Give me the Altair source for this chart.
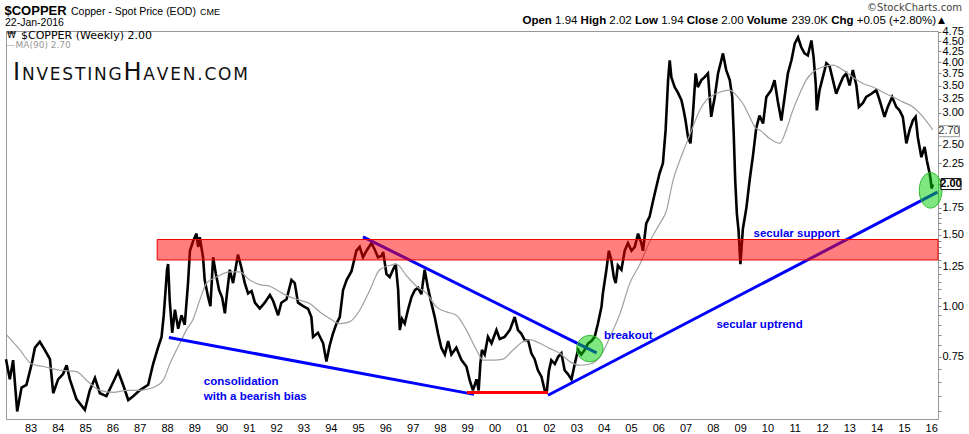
import altair as alt
import pandas as pd

# ---------------- data ----------------
years = [1982.10, 1982.24, 1982.36, 1982.51, 1982.67, 1982.85, 1983.04, 1983.16, 1983.34, 1983.52,
         1983.71, 1983.83, 1984.01, 1984.19, 1984.32, 1984.44, 1984.68, 1984.99, 1985.17, 1985.36,
         1985.54, 1985.78, 1986.03, 1986.21, 1986.39, 1986.58, 1986.76, 1987.00, 1987.31, 1987.49,
         1987.67, 1987.80, 1987.88, 1987.95, 1988.00, 1988.04, 1988.10, 1988.19, 1988.29, 1988.41,
         1988.53, 1988.65, 1988.77, 1988.84, 1988.96, 1989.08, 1989.14, 1989.20, 1989.32, 1989.38,
         1989.51, 1989.59, 1989.69, 1989.79, 1989.91, 1990.02, 1990.12, 1990.20, 1990.30, 1990.42,
         1990.60, 1990.73, 1990.85, 1990.97, 1991.10, 1991.22, 1991.40, 1991.58, 1991.77, 1991.89,
         1992.07, 1992.19, 1992.38, 1992.56, 1992.68, 1992.80, 1992.99, 1993.17, 1993.29, 1993.35,
         1993.53, 1993.72, 1993.84, 1993.96, 1994.08, 1994.21, 1994.33, 1994.45, 1994.58, 1994.76,
         1994.94, 1995.06, 1995.18, 1995.31, 1995.49, 1995.61, 1995.73, 1995.86, 1995.92, 1996.04,
         1996.16, 1996.28, 1996.38, 1996.47, 1996.53, 1996.61, 1996.71, 1996.83, 1996.96, 1997.08,
         1997.20, 1997.32, 1997.44, 1997.56, 1997.69, 1997.81, 1997.93, 1998.05, 1998.18, 1998.30,
         1998.42, 1998.60, 1998.79, 1998.97, 1999.09, 1999.21, 1999.34, 1999.42, 1999.48, 1999.54,
         1999.64, 1999.76, 1999.89, 2000.07, 2000.19, 2000.37, 2000.56, 2000.74, 2000.86, 2000.98,
         2001.11, 2001.23, 2001.35, 2001.47, 2001.59, 2001.72, 2001.84, 2001.92, 2001.99, 2002.08,
         2002.21, 2002.33, 2002.45, 2002.57, 2002.69, 2002.82, 2002.94, 2003.06, 2003.18, 2003.30,
         2003.43, 2003.55, 2003.67, 2003.79, 2003.92, 2003.97, 2004.10, 2004.19, 2004.28, 2004.37,
         2004.44, 2004.52, 2004.65, 2004.77, 2004.89, 2005.02, 2005.14, 2005.26, 2005.38, 2005.44,
         2005.56, 2005.68, 2005.81, 2005.93, 2006.05, 2006.17, 2006.27, 2006.36, 2006.42, 2006.48,
         2006.60, 2006.72, 2006.85, 2006.93, 2007.00, 2007.09, 2007.18, 2007.27, 2007.37, 2007.45,
         2007.58, 2007.70, 2007.82, 2007.94, 2008.07, 2008.19, 2008.31, 2008.37, 2008.49, 2008.62,
         2008.71, 2008.76, 2008.82, 2008.88, 2008.94, 2009.01, 2009.10, 2009.23, 2009.35, 2009.47,
         2009.59, 2009.71, 2009.84, 2009.96, 2010.14, 2010.26, 2010.38, 2010.51, 2010.63, 2010.75,
         2010.88, 2011.00, 2011.12, 2011.24, 2011.36, 2011.48, 2011.61, 2011.69, 2011.77, 2011.81,
         2011.91, 2012.03, 2012.16, 2012.28, 2012.40, 2012.52, 2012.64, 2012.77, 2012.89, 2013.01,
         2013.13, 2013.26, 2013.35, 2013.50, 2013.62, 2013.81, 2013.99, 2014.11, 2014.29, 2014.41,
         2014.57, 2014.72, 2014.84, 2014.96, 2015.09, 2015.21, 2015.33, 2015.43, 2015.51, 2015.64,
         2015.76, 2015.84, 2015.94, 2015.98, 2016.02, 2016.06]
prices = [0.74, 0.66, 0.736, 0.55, 0.63, 0.64, 0.72, 0.79, 0.817, 0.78,
          0.74, 0.61, 0.66, 0.68, 0.715, 0.66, 0.59, 0.555, 0.62, 0.665,
          0.61, 0.60, 0.65, 0.69, 0.64, 0.587, 0.60, 0.62, 0.64, 0.72,
          0.79, 0.84, 0.95, 1.10, 1.23, 1.27, 1.03, 0.86, 0.98, 0.88,
          0.95, 0.90, 1.14, 1.37, 1.45, 1.51, 1.40, 1.48, 1.32, 1.16,
          1.05, 1.00, 1.32, 1.20, 1.095, 1.05, 0.96, 1.08, 1.23, 1.14,
          1.34, 1.24, 1.14, 1.075, 1.09, 1.02, 0.987, 1.02, 1.065, 1.03,
          0.95, 1.02, 1.04, 1.16, 1.14, 1.02, 1.00, 0.985, 0.94, 0.84,
          0.86, 0.81, 0.73, 0.80, 0.856, 0.906, 0.94, 1.095, 1.16, 1.22,
          1.37, 1.40, 1.32, 1.37, 1.43, 1.38, 1.32, 1.33, 1.36, 1.20,
          1.18, 1.23, 1.27, 1.095, 0.873, 0.93, 0.906, 0.98, 1.054, 1.095,
          1.11, 1.07, 1.23, 1.11, 1.015, 0.94, 0.856, 0.79, 0.76, 0.82,
          0.76, 0.79, 0.736, 0.71, 0.657, 0.62, 0.66, 0.62, 0.72, 0.78,
          0.76, 0.84, 0.81, 0.873, 0.83, 0.84, 0.873, 0.94, 0.873, 0.856,
          0.824, 0.824, 0.765, 0.74, 0.695, 0.67, 0.62, 0.62, 0.69, 0.736,
          0.72, 0.75, 0.765, 0.695, 0.68, 0.66, 0.72, 0.78, 0.76, 0.78,
          0.81, 0.82, 0.84, 0.906, 0.996, 1.075, 1.23, 1.37, 1.30, 1.18,
          1.14, 1.26, 1.23, 1.37, 1.43, 1.37, 1.40, 1.51, 1.43, 1.37,
          1.60, 1.66, 1.82, 1.97, 2.13, 2.25, 2.72, 3.61, 4.04, 3.67,
          3.47, 3.36, 3.22, 3.04, 2.87, 2.61, 2.52, 2.98, 3.75, 3.47,
          3.61, 3.67, 3.75, 2.93, 3.28, 3.75, 4.04, 4.20, 3.82, 3.61,
          3.28, 2.72, 2.04, 1.69, 1.54, 1.27, 1.55, 1.75, 2.05, 2.35,
          2.75, 2.95, 2.82, 3.28, 3.41, 3.61, 3.20, 2.87, 3.28, 3.75,
          4.04, 4.44, 4.60, 4.35, 4.20, 4.15, 4.52, 4.12, 3.54, 3.04,
          3.41, 3.67, 3.97, 3.90, 3.61, 3.34, 3.50, 3.67, 3.75, 3.50,
          3.82, 3.50, 3.10, 3.17, 3.28, 3.34, 3.41, 3.22, 2.93, 3.10,
          3.28, 3.10, 3.04, 2.93, 2.52, 2.72, 2.87, 2.93, 2.61, 2.33,
          2.47, 2.29, 2.13, 2.05, 1.95, 2.00]

ma_years = [1982.10, 1982.61, 1983.04, 1983.46, 1984.07, 1984.68, 1985.05, 1985.54, 1986.03, 1986.52,
            1987.00, 1987.49, 1987.86, 1988.10, 1988.47, 1988.71, 1988.96, 1989.20, 1989.45, 1989.81,
            1990.30, 1990.67, 1991.03, 1991.40, 1991.77, 1992.13, 1992.50, 1992.86, 1993.23, 1993.60,
            1993.96, 1994.33, 1994.69, 1995.06, 1995.43, 1995.79, 1996.16, 1996.41, 1996.77, 1997.14,
            1997.51, 1997.87, 1998.24, 1998.60, 1998.97, 1999.34, 1999.58, 1999.95, 2000.31, 2000.68,
            2001.04, 2001.29, 2001.66, 2002.02, 2002.39, 2002.76, 2003.12, 2003.49, 2003.86, 2004.23,
            2004.60, 2004.96, 2005.33, 2005.70, 2006.06, 2006.30, 2006.54, 2006.79, 2007.03, 2007.27,
            2007.52, 2007.76, 2008.00, 2008.25, 2008.62, 2008.86, 2009.10, 2009.35, 2009.59, 2009.71,
            2010.08, 2010.45, 2010.69, 2010.93, 2011.18, 2011.42, 2011.67, 2012.03, 2012.40, 2012.77,
            2013.13, 2013.50, 2013.86, 2014.23, 2014.60, 2014.96, 2015.33, 2015.70, 2016.06]
ma_values = [0.853, 0.78, 0.72, 0.71, 0.695, 0.69, 0.657, 0.62, 0.613, 0.62,
             0.62, 0.63, 0.657, 0.72, 0.81, 0.873, 0.93, 1.035, 1.14, 1.18,
             1.215, 1.215, 1.16, 1.13, 1.12, 1.085, 1.054, 1.035, 1.015, 0.968,
             0.933, 0.906, 0.915, 0.977, 1.095, 1.23, 1.26, 1.27, 1.19, 1.12,
             1.075, 0.996, 0.968, 0.95, 0.873, 0.78, 0.736, 0.736, 0.74, 0.78,
             0.817, 0.827, 0.81, 0.787, 0.765, 0.73, 0.715, 0.72, 0.75, 0.84,
             0.96, 1.14, 1.27, 1.45, 1.60, 1.72, 2.04, 2.29, 2.52, 2.77,
             3.04, 3.22, 3.31, 3.37, 3.41, 3.31, 3.16, 2.93, 2.74, 2.72,
             2.59, 2.52, 2.72, 3.04, 3.34, 3.61, 3.78, 3.89, 3.93, 3.82,
             3.67, 3.54, 3.47, 3.37, 3.28, 3.19, 3.10, 2.93, 2.72]

# trend lines: (line id, year, price)
trend_ids = ["cons", "cons", "down", "down", "up", "up"]
trend_years = [1988.07, 1999.25, 1995.18, 2003.74, 2001.96, 2016.23]
trend_prices = [0.837, 0.606, 1.482, 0.767, 0.603, 1.91]
floor_years = [1998.99, 2001.96]
floor_prices = [0.613, 0.613]

band_year = [1987.64]
band_year2 = [2016.25]
band_low = [1.30]
band_high = [1.46]

circle_years = [2003.49]
circle_prices = [0.786]
ellipse_years = [2015.98]
ellipse_prices = [1.93]

note_texts = ["breakout", "secular support", "secular uptrend", "consolidation", "with a bearish bias"]
note_years = [2004.01, 2009.49, 2008.13, 1989.35, 1989.35]
note_prices = [0.843, 1.51, 0.901, 0.651, 0.596]

y_label_values = [0.75, 1.0, 1.25, 1.5, 1.75, 2.0, 2.25, 2.5, 2.75, 3.0, 3.25, 3.5, 3.75, 4.0, 4.25, 4.5, 4.75]
y_minor_values = [0.55, 0.6, 0.65, 0.7, 0.8, 0.85, 0.9, 0.95, 1.05, 1.1, 1.15, 1.2, 1.3, 1.35, 1.4, 1.45,
                  1.55, 1.6, 1.65, 1.7]
x_year_ticks = list(range(1983, 2017))

last_close = 2.00
last_ma = 2.70

# ---------------- layout ----------------
W, H = 932, 388
PAD_L, PAD_T = 6, 31
XMIN, XMAX = 1982.1, 2016.25
YMIN, YMAX = 0.527, 4.77

xs = alt.Scale(domain=[XMIN, XMAX], nice=False, zero=False)
ys = alt.Scale(type="log", domain=[YMIN, YMAX], nice=False)

x_axis = alt.Axis(values=x_year_ticks, labelExpr="substring(toString(datum.value), 2, 4)",
                  title=None, grid=False, domain=False, ticks=False, labelPadding=3,
                  labelFont="Liberation Sans", labelFontSize=11, labelColor="#000")
# labels hidden where the value boxes (2.70 / 2.00) sit, as in the reference
y_axis = alt.Axis(orient="right", values=sorted(y_label_values + y_minor_values),
                  labelExpr="(round(datum.value*100) % 25 == 0 && round(datum.value*100) != 200 && round(datum.value*100) != 275) ? format(datum.value, '.2f') : ''",
                  title=None, grid=False, domain=False, tickSize=3, tickColor="#888",
                  labelPadding=1, labelFont="Liberation Sans", labelFontSize=11,
                  labelColor="#000", labelOverlap=False, labelBound=False, labelFlush=False)

X = alt.X("year:Q", scale=xs, axis=x_axis)
Y = alt.Y("price:Q", scale=ys, axis=y_axis)

price_df = pd.DataFrame({"year": years, "price": prices})
ma_df = pd.DataFrame({"year": ma_years, "price": ma_values})
trend_df = pd.DataFrame({"id": trend_ids, "year": trend_years, "price": trend_prices})
floor_df = pd.DataFrame({"year": floor_years, "price": floor_prices})
band_df = pd.DataFrame({"year": band_year, "year2": band_year2, "price": band_low, "price2": band_high})
circ_df = pd.DataFrame({"year": circle_years, "price": circle_prices})
ell_df = pd.DataFrame({"year": ellipse_years, "price": ellipse_prices})
note_df = pd.DataFrame({"year": note_years, "price": note_prices, "t": note_texts})

price_line = alt.Chart(price_df).mark_line(color="#000", strokeWidth=2.6, strokeJoin="miter",
                                           strokeMiterLimit=3).encode(x=X, y=Y)
ma_line = alt.Chart(ma_df).mark_line(color="#a0a0a0", strokeWidth=1.2, interpolate="monotone").encode(x=X, y=Y)
trend = alt.Chart(trend_df).mark_line(color="#0000ff", strokeWidth=3).encode(x=X, y=Y, detail="id:N")
floor = alt.Chart(floor_df).mark_line(color="#ff0000", strokeWidth=3).encode(x=X, y=Y)
band = alt.Chart(band_df).mark_rect(fill="#ff0000", fillOpacity=0.5, stroke="#ee0000", strokeWidth=1).encode(
    x=X, x2="year2:Q", y=Y, y2="price2:Q")
circ = alt.Chart(circ_df).mark_point(shape="circle", size=700, filled=True, fill="#00d000",
                                     fillOpacity=0.5, stroke="#33bb33", strokeWidth=1, opacity=1).encode(x=X, y=Y)
ell = alt.Chart(ell_df).mark_point(shape="M0,-1A0.64,1 0 1,1 0,1A0.64,1 0 1,1 0,-1Z", size=1260, filled=True,
                                   fill="#00d000", fillOpacity=0.5, stroke="#33bb33", strokeWidth=1,
                                   opacity=1).encode(x=X, y=Y)
notes = alt.Chart(note_df).mark_text(align="left", baseline="middle", font="Liberation Sans",
                                     fontWeight="bold", fontSize=11.5, color="#0000ee").encode(
    x=X, y=Y, text="t:N")

# value boxes on the right axis (box spans about +-5.5 px around the value on the log scale)
box_df = pd.DataFrame({"price": [last_ma, last_close], "t": ["%.2f" % last_ma, "%.2f" % last_close]})
Yb = alt.Y("lo:Q", scale=ys, axis=y_axis)
ma_box = alt.Chart(box_df.iloc[[0]]).transform_calculate(
    lo="datum.price*exp(-5.5/176.2)", hi="datum.price*exp(5.5/176.2)"
).mark_rect(fill="#fff", stroke="#999", strokeWidth=1).encode(
    x=alt.value(W + 0.5), x2=alt.value(W + 21.5), y=Yb, y2="hi:Q")
cl_box = alt.Chart(box_df.iloc[[1]]).transform_calculate(
    lo="datum.price*exp(-5.5/176.2)", hi="datum.price*exp(5.5/176.2)"
).mark_rect(fill="#fff", stroke="#000", strokeWidth=1).encode(
    x=alt.value(W + 3), x2=alt.value(W + 23), y=Yb, y2="hi:Q")
ma_txt = alt.Chart(box_df.iloc[[0]]).mark_text(font="Liberation Sans", fontSize=11, color="#333",
                                               align="center", baseline="middle").encode(
    x=alt.value(W + 11), y=Y, text="t:N")
cl_txt = alt.Chart(box_df.iloc[[1]]).mark_text(font="Liberation Sans", fontSize=11, fontWeight="bold",
                                               color="#000", align="center", baseline="middle").encode(
    x=alt.value(W + 13), y=Y, text="t:N")


# ---------------- header texts (page pixel positions) ----------------
def hdr(rows, **kw):
    df = pd.DataFrame(rows, columns=["t", "px", "py", "fs"])
    df["vx"] = df["px"] - PAD_L
    df["vy"] = df["py"] - PAD_T
    return alt.Chart(df).mark_text(align=kw.pop("align", "left"), baseline="alphabetic", **kw).encode(
        x=alt.X("vx:Q", scale=None, axis=None), y=alt.Y("vy:Q", scale=None, axis=None),
        text="t:N", size=alt.Size("fs:Q", scale=None, legend=None))


arial_r = {c: .556 for c in "0123456789"}
arial_r.update({".": .278, " ": .278, "+": .584, "(": .333, ")": .333, "%": .889, "K": .667})
arial_b = {"O": .778, "p": .611, "e": .556, "n": .611, "H": .722, "i": .278, "g": .611, "h": .611,
           "L": .611, "o": .611, "w": .778, "C": .722, "l": .278, "s": .556, "V": .667, "u": .611,
           "m": .889}
stat_pieces = [("Open", "b"), ("1.94", "r"), ("High", "b"), ("2.02", "r"), ("Low", "b"), ("1.94", "r"),
               ("Close", "b"), ("2.00", "r"), ("Volume", "b"), ("239.0K", "r"), ("Chg", "b"),
               ("+0.05 (+2.80%)", "r")]
SFS = 11.5
widths = [sum((arial_b if w == "b" else arial_r).get(c, .6) for c in s) * SFS for s, w in stat_pieces]
gap = 0.278 * SFS
total = sum(widths) + gap * (len(widths) - 1)
cur = 936 - total
bold_rows, reg_rows = [], []
for (s, w), wd in zip(stat_pieces, widths):
    (bold_rows if w == "b" else reg_rows).append((s, cur, 24, SFS))
    cur += wd + gap

dv = {"I": .295, "N": .748, "V": .684, "E": .632, "S": .635, "T": .611, "G": .775, "H": .752, "A": .684,
      ".": .318, "C": .698, "O": .787, "M": .863}
logo_letters = "INVESTINGHAVEN.COM"
logo_big = {0, 9}
lx = 13.0
logo_rows = []
for i, ch in enumerate(logo_letters):
    fs = 24 if i in logo_big else 17
    logo_rows.append((ch, lx, 80, fs))
    lx += dv[ch] * fs + 1.8

layers = [
    price_line, ma_line, trend, floor, band, circ, ell, notes, ma_box, cl_box, ma_txt, cl_txt,
    hdr([("$COPPER", 4.5, 15, 13)], font="Liberation Sans", fontWeight="bold", color="#000"),
    hdr([("Copper - Spot Price (EOD)", 71, 15, 10.5), ("22-Jan-2016", 5, 26, 10.5)],
        font="Liberation Sans", color="#000"),
    hdr([("CME", 200, 15, 9)], font="Liberation Sans", color="#000"),
    hdr(bold_rows, font="Liberation Sans", fontWeight="bold", color="#000"),
    hdr(reg_rows, font="Liberation Sans", color="#000"),
    hdr([("\u25b2", 938, 23, 9)], font="DejaVu Sans", color="#000"),
    hdr([("\u00a9StockCharts.com", 962, 11, 10)], font="DejaVu Sans", color="#444", align="right"),
    hdr([("\u20a9", 7, 38, 9), ("$COPPER (Weekly) 2.00", 21, 38.5, 11)], font="DejaVu Sans", color="#000"),
    hdr([("\u2014", 6, 47.5, 9)], font="DejaVu Sans", color="#999"),
    hdr([("MA(90) 2.70", 15.5, 47.5, 9)], font="DejaVu Sans", color="#999"),
    hdr(logo_rows, font="DejaVu Sans", color="#111"),
]

chart = alt.layer(*layers).properties(
    width=W, height=H,
    autosize=alt.AutoSizeParams(type="none"),
    padding={"left": PAD_L, "top": PAD_T, "right": 969 - W - PAD_L, "bottom": 434 - H - PAD_T},
    background="#ffffff",
).configure_view(stroke="#999999", strokeWidth=1)

chart.save("out.html", embed_options={"renderer": "svg", "actions": False})
